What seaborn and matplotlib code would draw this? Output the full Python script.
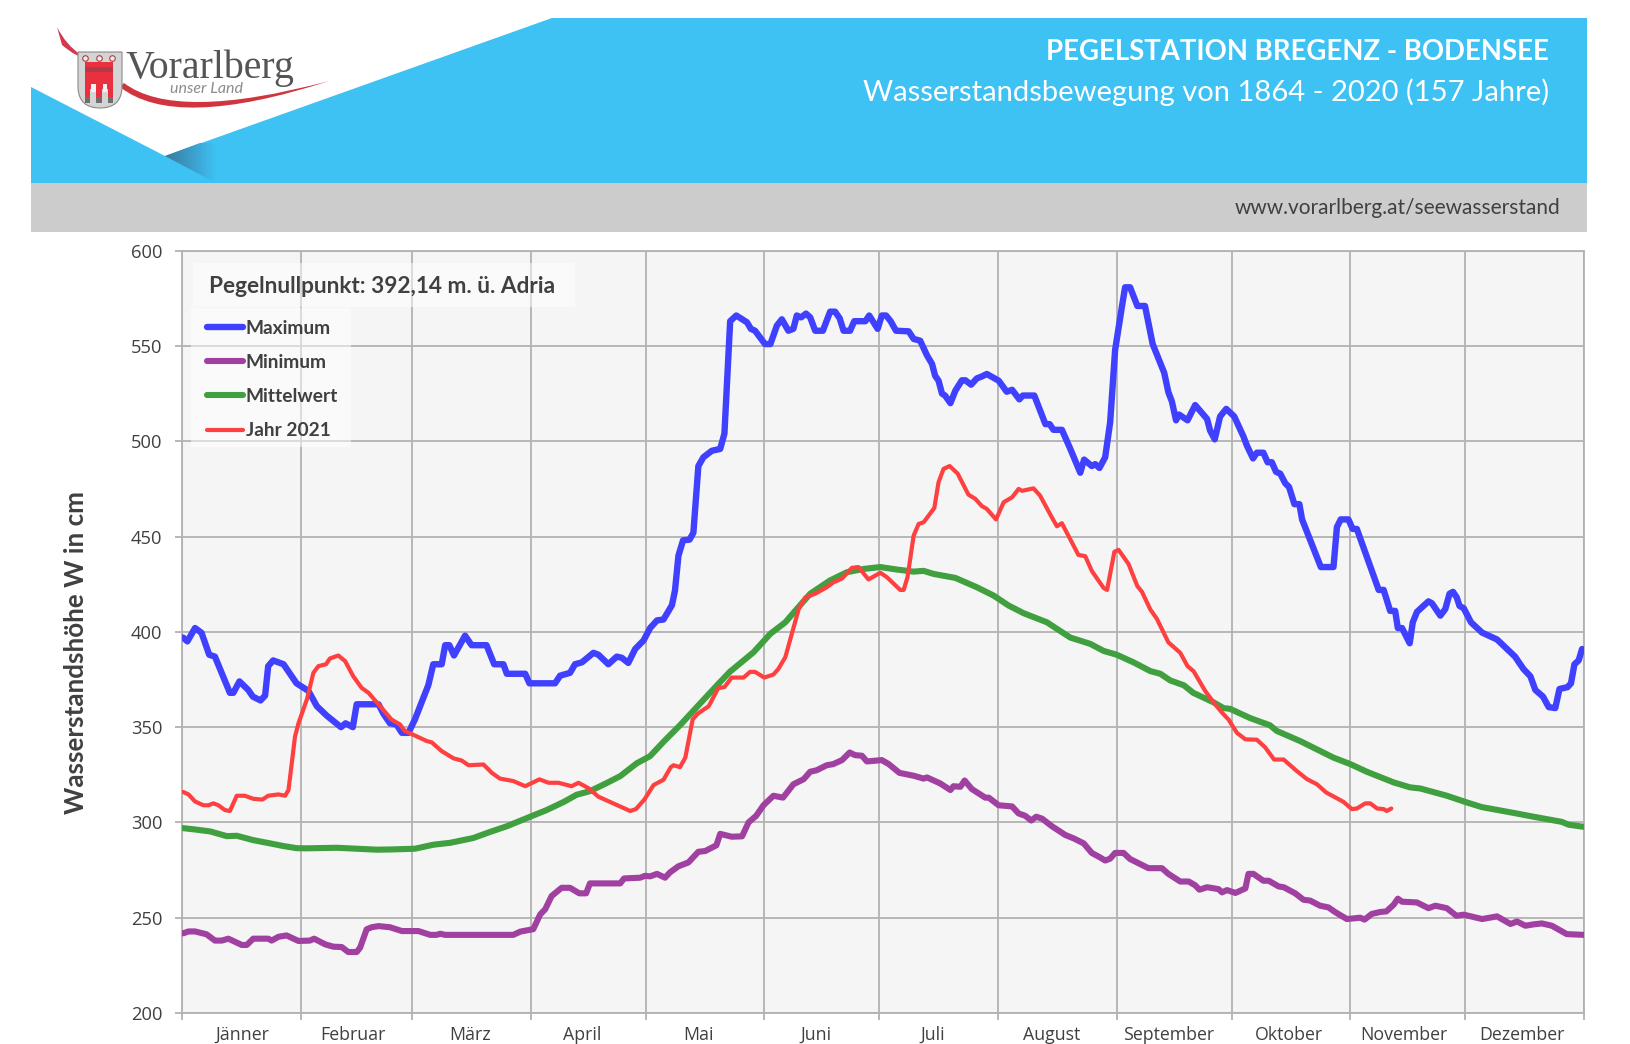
import numpy as np
import pandas as pd
import matplotlib
matplotlib.use("Agg")
import matplotlib.pyplot as plt
import seaborn as sns
from matplotlib.colors import LinearSegmentedColormap
from matplotlib.patches import PathPatch, Polygon, Rectangle
from matplotlib.path import Path

# Monate (Schaltjahr-Achse, 366 Tage)
months = ["Jänner", "Februar", "März", "April", "Mai", "Juni", "Juli",
          "August", "September", "Oktober", "November", "Dezember"]
month_lengths = [31, 29, 31, 30, 31, 30, 31, 31, 30, 31, 30, 31]
# Beschriftung sitzt im Original nicht exakt in der Monatsmitte
month_label_shift = [0.3, -0.8, -0.3, -1.6, -1.6, -1.4, -1.6, -1.4, -1.4, -0.5, -1.1, -0.8]
y_ticks = [200, 250, 300, 350, 400, 450, 500, 550, 600]

# Werte (Tag im Jahr / Wasserstand in cm)
max_days = [0.3, 1.4, 3.4, 5.1, 7.1, 8.6, 12.5, 13.4, 15, 17.3, 18.5, 20.5, 21.7, 22.5, 23.8, 26.5, 29.9, 33,
            35.2, 37.8, 41.5, 42.7, 44.6, 45.6, 51.3, 52.6, 54.3, 56, 57.4, 59.1, 60.8, 64.3, 65.6, 67.8, 68.7,
            69.8, 71, 73.9, 75.6, 79.5, 81.5, 83.9, 84.8, 89.6, 90.7, 97.4, 98.7, 101.3, 102.6, 104.4, 107.4,
            108.7, 111.3, 113.5, 114.8, 116.5, 118.3, 120.5, 122.2, 124, 125.7, 127.9, 128.7, 129.6, 130.8,
            132.5, 133.5, 134.8, 136.1, 138.3, 140.5, 141.6, 143.1, 144.7, 147.5, 148.5, 149.6, 152.2, 153.6,
            155.3, 156.6, 158.3, 159.6, 160.5, 161.6, 162.9, 164, 165.3, 167.3, 169.2, 170.5, 171.7, 172.7,
            174.4, 175.5, 178.4, 179.4, 181.6, 182.7, 183.8, 185, 186.4, 189.7, 191, 192.7, 194.5, 195.8,
            196.6, 197.5, 198.4, 199.2, 200.6, 201.9, 203.6, 204.5, 206, 207.5, 208.8, 210.1, 213.2, 215.3,
            216.7, 218.6, 219.5, 222.5, 225.4, 226.5, 227.5, 229.7, 231.9, 234.5, 235.5, 237.5, 238.4, 239.5,
            241, 242.3, 243.6, 245.4, 246.2, 247.5, 249.4, 251.4, 253.4, 256.4, 257.5, 258.4, 259.5, 260.3,
            262.5, 264.5, 267.6, 268.4, 269.6, 271, 272.6, 274.7, 277.1, 278, 279.6, 280.6, 282.3, 283.4,
            284.5, 285.6, 286.7, 288, 289, 290.4, 291.7, 292.4, 297.3, 300.6, 301.5, 302.5, 304.5, 305.6,
            306.7, 312.4, 313.7, 315.4, 316.7, 317.4, 318.5, 320.5, 321.3, 322.4, 325.4, 326.3, 328.5, 329.8,
            330.9, 331.8, 332.8, 333.5, 334.6, 336.5, 339.4, 343.3, 348, 350.2, 352, 353.3, 355.3, 356.8,
            358.5, 359.6, 361.7, 362.6, 363.5, 364.6, 365.5]
max_vals = [397, 395, 402, 399.5, 388, 387, 368, 368, 374, 369.5, 366, 364, 366.6, 382, 385, 383, 373, 369,
            361, 356, 350, 352, 350, 362, 362, 357, 352, 351.4, 347, 347, 354, 372, 383, 383, 393,
            393, 387.6, 398, 393, 393, 383, 383, 378, 378, 373, 373, 377, 378.5, 383, 384, 389,
            388, 383, 387, 386.4, 383.7, 391, 395.5, 402, 406, 406.5, 414, 421.7, 440, 448,
            448.4, 452, 487, 491.6, 495, 496, 504, 563, 566, 562.4, 559, 558, 551, 551,
            560.7, 564, 558, 559, 566, 565, 567, 565, 558, 558, 568, 568, 564.5, 558,
            558, 563, 563, 566, 559, 566, 566, 563, 558, 557.7, 553.7, 552.8, 545, 540.6,
            534.4, 531.8, 525, 524, 520, 526.6, 532, 532, 529.7, 533, 534, 535.3, 531.8, 526,
            527, 522, 524, 524, 509, 509, 506, 506, 496, 483.5, 490.4, 487, 488, 486,
            491.6, 510, 548, 571, 580.8, 580.8, 571, 571, 551, 536, 525.7, 521, 511, 514,
            511, 519, 511.7, 505.6, 501, 513, 517, 513, 502.5, 497.7, 491, 494, 494, 489,
            489, 484, 483, 478, 476, 467, 467, 459, 434, 434, 455, 459, 459, 454,
            454, 422, 422, 411, 411, 402, 402, 394, 405, 410.5, 416, 415, 408.5, 412,
            420, 421, 418, 413.6, 412.4, 405, 399.6, 396, 387, 380.5, 376.7, 369.5, 366, 360.5,
            360, 370, 371, 373, 383, 385, 391]

min_days = [0.3, 1.7, 3.4, 6.4, 8.6, 10.4, 12.1, 15.6, 16.9, 18.6, 22.5, 23.4, 25.2, 27.3, 30.4, 33.4, 34.5,
            37.4, 39.5, 41.7, 43.4, 45.6, 46.5, 48.2, 49.5, 51.3, 54.3, 57.4, 61.7, 64.8, 66.5, 67.4, 68.7,
            86.5, 88.3, 91.7, 93.5, 94.8, 96.5, 99.1, 101.3, 103.7, 105.5, 106.5, 114.4, 115.4, 119.6, 120.9,
            122.2, 124, 126.1, 127.4, 129.6, 132.2, 134.8, 136.6, 139.5, 140.5, 143.5, 146.2, 147.9, 149.9,
            151.8, 154.4, 156.9, 159.6, 162.3, 164, 165.7, 168.3, 170, 172.3, 174.3, 175.7, 177.5, 178.8,
            182.7, 184.5, 187.3, 191, 193.6, 194.5, 197.9, 200.6, 201.4, 203.2, 204.3, 206.2, 209.7, 210.6,
            213.2, 216.7, 218.4, 220.1, 221.7, 223, 224.5, 227.1, 230.6, 232.8, 235.4, 237.5, 239.7, 241,
            242.3, 243.6, 245.8, 247.5, 252.3, 255.8, 257.5, 260.6, 262.8, 264.5, 265.6, 267.6, 270.6, 271.5,
            272.8, 275, 277.6, 278.4, 279.7, 282.3, 283.7, 286.3, 287.6, 290.6, 292.8, 294.5, 297.1, 299.3,
            301, 304.1, 307.6, 308.7, 310.6, 312.8, 314.4, 316.3, 317.4, 318.5, 322.4, 325.4, 327.2, 330.2,
            332.7, 334.6, 339.4, 343.3, 346.8, 348.5, 350.7, 352.8, 355, 357.6, 361.5, 365.9]
min_vals = [241.8, 242.8, 242.8, 241.3, 238, 238, 239, 235.7, 235.7, 239, 239, 238, 240, 240.7, 237.8, 238, 239,
            236, 234.8, 234.6, 232, 232, 234.3, 243.9, 245, 245.6, 245, 243, 243, 241, 241, 241.6, 241,
            241, 242.7, 244, 251.7, 254.4, 261.4, 265.7, 265.7, 262.8, 262.8, 268, 268, 270.6, 271, 272,
            271.7, 273, 271, 273.8, 277, 279, 284.6, 285, 288, 294, 292.5, 292.7, 300, 303.5,
            309, 314, 313, 320, 322.7, 326.6, 327.4, 330, 330.6, 332.7, 336.7, 335.3, 335, 332,
            332.7, 330.6, 326, 324.5, 323, 323.6, 320.5, 317, 319, 318.7, 322, 317.5, 313, 313,
            309, 308.4, 304.7, 303.5, 301, 303, 302, 298, 293.4, 291.6, 289, 284, 281.6, 280,
            281, 284, 284, 280.8, 276, 276, 273, 269, 269, 267, 264.7, 266, 265, 263.3,
            264.5, 263, 265.4, 273, 273, 269.4, 269.4, 266.4, 266, 262.8, 259.4, 259, 256.3, 255.4,
            253, 249.3, 250, 249, 252, 253, 253.3, 256.8, 260, 258.4, 258, 255, 256.3, 255,
            251, 251.6, 249.3, 250.7, 246.7, 248, 245.8, 246.5, 247, 245.8, 241.4, 241]

mean_days = [0.3, 3.4, 7.3, 11.7, 14.3, 18.6, 23, 26.5, 29.9, 32.5, 40.4, 45.6, 50.8, 54.3, 60.8, 65.6, 70, 76,
             80.4, 84.8, 90.9, 95.2, 99.6, 103, 106.5, 111, 114.4, 118.7, 122.2, 125.7, 130, 134.8, 139.6, 143,
             149.2, 153.6, 157.5, 160.5, 164, 169.2, 173.6, 177.9, 182.3, 186.6, 191, 193.6, 196.2, 201.9,
             207.5, 211.9, 215.8, 219.7, 225.8, 231.9, 237.1, 240.6, 244, 248.4, 252.8, 255.4, 258, 261.5,
             264, 269.3, 271.9, 273.6, 278.9, 284, 285.8, 291.9, 300.6, 305, 309.3, 316.3, 320.6, 323.3,
             330.2, 335.4, 339.4, 347.6, 352.8, 360.2, 362, 365.9]
mean_vals = [297, 296.3, 295.3, 292.8, 293, 290.7, 289, 287.6, 286.5, 286.4, 286.7, 286.2, 285.7, 285.8, 286.2,
             288.3, 289.3, 291.8, 295, 298, 303, 306.5, 310.7, 314.5, 316.4, 320.8, 324.3, 331, 334.8, 342.3,
             351, 361.4, 371.8, 379, 389.3, 399, 405, 412, 420, 427, 431.3, 433, 434, 432.7, 431.6, 432, 430.4,
             428.3, 423.4, 419, 413.8, 409.8, 405, 397, 393.7, 390, 388, 384, 379.4, 378, 374.5, 372,
             368, 363, 360, 359.6, 354.7, 351, 348, 342.7, 334, 330.6, 326.6, 321, 318.4, 317.8,
             314, 310.5, 308, 305, 303, 300.3, 298.8, 297.7]

y2021_days = [0.3, 1.7, 3.4, 5.6, 6.9, 8.2, 9.5, 11.2, 12.5, 14.3, 16.4, 18.6, 21, 22.5, 25.2, 26.9, 27.8, 29.5,
              30.4, 32.6, 34.3, 35.6, 37.6, 38.6, 40.8, 42.6, 44.7, 46.9, 48.7, 51.7, 54.7, 56.9, 58.2, 63.9,
              65.2, 67.8, 70.9, 73, 74.8, 78.7, 80.9, 83, 86.5, 89.6, 93.3, 95.7, 98.3, 101.7, 103.5, 106.1,
              108.7, 117, 118.5, 120.7, 123.1, 125.7, 127.6, 128.3, 130, 131.4, 133.3, 134.6, 137.5, 140, 141.6,
              143.5, 146.6, 148.3, 149.6, 152, 154.4, 155.7, 157.5, 161, 162.7, 165.3, 168.3, 170.1, 172.3,
              174.9, 176.6, 179.2, 182.3, 184, 187.5, 188.4, 189.4, 191, 192.3, 193.6, 196.4, 197.5, 198.8,
              200.4, 202.5, 205.3, 207.1, 208.8, 210.1, 212.5, 214.5, 216.7, 218.4, 219.3, 222.3, 224, 227.1,
              228.4, 229.7, 234, 235.8, 237.5, 240.6, 241.5, 243.4, 244.5, 247.1, 249.4, 250.6, 252.8, 254.5,
              257.5, 260.6, 262.5, 264.1, 267.1, 269.7, 271.5, 273.2, 275.4, 277.6, 280.6, 282.8, 285.1, 287.6,
              291, 293.7, 296.3, 298.7, 303.2, 305.4, 306.7, 308.9, 310.2, 312, 313.7, 314.5, 315.7]
y2021_vals = [316, 314.7, 311, 309, 309, 310, 309, 306.5, 306, 314, 314, 312.4, 312, 314, 314.7, 314, 317, 345,
              352, 364.5, 378.5, 382, 383, 386, 387.6, 384.6, 376.7, 370.6, 368, 361, 354, 351.4, 348, 342.7,
              342, 337.4, 333.6, 332.5, 330, 330.4, 326, 323, 321.7, 319, 322.6, 320.8, 320.8, 319, 320.8, 318,
              313.5, 306, 307, 312, 319.6, 322.4, 329, 330, 329, 334, 354, 357, 361, 370.5, 371,
              376, 376, 379, 379, 376, 377.6, 380.6, 386.7, 412, 418, 420, 423.4, 426, 428,
              433.6, 434, 427.5, 431, 428.7, 422, 422, 428.7, 450.5, 456.6, 457.5, 465, 478.5, 485.5,
              487, 483, 472, 469.8, 466, 464.5, 459, 468, 470.6, 475, 474, 475.3, 471.5, 460,
              455.4, 457, 440.4, 439.7, 432, 423, 422, 442, 443, 435.6, 424, 421, 411.7, 406.8,
              394.5, 389, 382, 379.3, 369, 362, 357.6, 354, 347, 343.6, 343.4, 339.3, 333, 333,
              327, 322.7, 320, 315.7, 310.8, 307, 307.3, 310, 310, 307.3, 307, 306, 307.3]

BLUE = "#3EC1F3"
GREY_BAND = "#CCCCCC"
GRID = "#B2B2B2"
TEXT = "#404040"
FONT = ["Lato", "DejaVu Sans"]
TICK_FONT = ["Open Sans", "DejaVu Sans"]
AX_TOP = 250.7
AX_BOTTOM = 1013


def draw_header(fig):
    # Kopfbereich in Pixelkoordinaten
    hd = fig.add_axes([0, 0, 1, 1], zorder=0)
    hd.set_xlim(0, 1631)
    hd.set_ylim(1044, 0)
    hd.axis("off")

    hd.add_patch(Polygon([(31, 87), (165, 156), (552, 18), (1587, 18), (1587, 183), (31, 183)],
                         closed=True, fc=BLUE, ec="none"))
    hd.add_patch(Rectangle((31, 183), 1556, 49, fc=GREY_BAND, ec="none"))

    # Schatten an der Falte
    cmap = LinearSegmentedColormap.from_list("fold", ["#3A7C9E", "#3C9CC8", BLUE])
    img = hd.imshow(np.linspace(0, 1, 64).reshape(1, -1), cmap=cmap, aspect="auto",
                    extent=(165, 216, 183, 143), zorder=2)
    clip = Polygon([(165, 156), (200, 143), (216, 143), (216, 183)], closed=True,
                   transform=hd.transData, fc="none", ec="none")
    hd.add_patch(clip)
    img.set_clip_path(clip)
    hd.set_xlim(0, 1631)
    hd.set_ylim(1044, 0)

    # Logo: roter Schwung
    swoosh1 = Path([(57, 27), (66, 45), (81, 55), (79, 59), (62, 45), (57, 27)],
                   [Path.MOVETO, Path.CURVE3, Path.CURVE3, Path.CURVE3, Path.CURVE3, Path.CLOSEPOLY])
    hd.add_patch(PathPatch(swoosh1, fc="#CF3A4C", ec="none", zorder=3))
    swoosh2 = Path([(120, 87), (175, 131), (329, 81), (175, 122), (124, 83), (120, 87)],
                   [Path.MOVETO, Path.CURVE3, Path.CURVE3, Path.CURVE3, Path.CURVE3, Path.CLOSEPOLY])
    hd.add_patch(PathPatch(swoosh2, fc="#D2343F", ec="none", zorder=3))

    # Logo: Wappen
    shield = Path([(78, 52), (122, 52), (122, 88), (121, 108), (100, 108), (79, 108), (78, 88), (78, 52)],
                  [Path.MOVETO, Path.LINETO, Path.LINETO, Path.CURVE3, Path.CURVE3, Path.CURVE3, Path.CURVE3,
                   Path.CLOSEPOLY])
    hd.add_patch(PathPatch(shield, fc="#D4D4D4", ec="#8A8A8A", lw=0.8, zorder=4))
    hd.add_patch(Rectangle((85, 62), 28, 27, fc="#E8303F", ec="none", zorder=5))
    hd.add_patch(Rectangle((85, 67), 28, 5, fc="#B03A48", ec="none", zorder=5))
    for x0 in (85, 96.5, 108):
        hd.add_patch(Rectangle((x0, 84), 5.5, 14, fc="#E8303F", ec="none", zorder=6))
        hd.add_patch(Rectangle((x0, 97), 5.5, 6, fc="#6E6E6E", ec="none", zorder=6))
    hd.add_patch(Rectangle((91.5, 84), 4.5, 8, fc="#F2F2F2", ec="none", zorder=6))
    hd.add_patch(Rectangle((103, 84), 4.5, 8, fc="#F2F2F2", ec="none", zorder=6))
    hd.scatter([85, 99, 112], [58, 58, 58], s=16, facecolor="#EDEDED", edgecolor="#B03A48", lw=0.8, zorder=6)

    hd.text(126, 78, "Vorarlberg", family=["Liberation Serif", "DejaVu Serif"], fontsize=28.7, color="#555555",
            va="baseline", ha="left", zorder=6)
    hd.text(170, 89, "unser Land", family=FONT, style="italic", fontsize=11.5, color="#8C8C8C",
            va="center", ha="left", zorder=6)

    # Titel
    hd.text(1549, 52, "PEGELSTATION BREGENZ - BODENSEE", family=FONT, fontsize=19.8, fontweight="bold",
            color="white", ha="right", va="center")
    hd.text(1549, 92, "Wasserstandsbewegung von 1864 - 2020 (157 Jahre)", family=FONT, fontsize=21,
            color="white", ha="right", va="center")
    hd.text(1560, 208, "www.vorarlberg.at/seewasserstand", family=FONT, fontsize=15, color=TEXT,
            ha="right", va="center")


def main():
    sns.set_theme(style="white")
    plt.rcParams["font.family"] = FONT

    fig = plt.figure(figsize=(16.31, 10.44), dpi=100, facecolor="white")
    draw_header(fig)

    ax = fig.add_axes([182 / 1631, 1 - AX_BOTTOM / 1044, (1584 - 182) / 1631, (AX_BOTTOM - AX_TOP) / 1044], zorder=1)
    ax.set_facecolor("#F5F5F5")

    # ============================
    # Kurven
    # ============================
    series = [
        ("Maximum", max_days, max_vals, "#4040FF", 4.6),
        ("Minimum", min_days, min_vals, "#A040A0", 4.4),
        ("Mittelwert", mean_days, mean_vals, "#40A040", 4.4),
        ("Jahr 2021", y2021_days, y2021_vals, "#FF4040", 3.0),
    ]
    for name, days, vals, color, lw in series:
        df = pd.DataFrame({"tag": days, "wert": vals})
        sns.lineplot(data=df, x="tag", y="wert", ax=ax, color=color, linewidth=lw, label=name,
                     estimator=None, sort=False, solid_joinstyle="round", solid_capstyle="round", zorder=3)

    # ============================
    # Achsen
    # ============================
    edges = np.cumsum([0] + month_lengths)
    centers = (edges[:-1] + edges[1:]) / 2 + np.array(month_label_shift)
    ax.set_xlim(0, edges[-1])
    ax.set_ylim(200, 600)
    ax.set_xticks(edges)
    ax.set_xticklabels([])
    ax.set_xticks(centers, minor=True)
    ax.set_xticklabels(months, minor=True, family=TICK_FONT, fontsize=12.8, color=TEXT)
    ax.set_yticks(y_ticks)
    ax.set_yticklabels([str(v) for v in y_ticks], family=TICK_FONT, fontsize=13.2, color=TEXT)
    ax.grid(True, which="major", color=GRID, linewidth=1.3)
    ax.set_axisbelow(True)
    ax.tick_params(axis="x", which="major", length=5, width=1.3, color=GRID, bottom=True)
    ax.tick_params(axis="x", which="minor", length=0, pad=9, bottom=True)
    ax.tick_params(axis="y", which="major", length=5, width=1.3, color=GRID, left=True, pad=9)
    for spine in ax.spines.values():
        spine.set_color(GRID)
        spine.set_linewidth(1.3)
    ax.set_xlabel("")
    ax.set_ylabel("")
    fig.text(76 / 1631, 1 - 653 / 1044, "Wasserstandshöhe W in cm", rotation=90, family=FONT, fontsize=18.7,
             fontweight="bold", color=TEXT, ha="center", va="center")

    # ============================
    # Beschriftung und Legende
    # ============================
    px = lambda x, y: ((x - 182) / 1402, 1 - (y - AX_TOP) / (AX_BOTTOM - AX_TOP))
    h = AX_BOTTOM - AX_TOP
    ax.add_patch(Rectangle(px(193, 307), 382 / 1402, 44 / h, transform=ax.transAxes, fc="white", alpha=0.5,
                           ec="none", zorder=4))
    ax.add_patch(Rectangle(px(191, 447), 160 / 1402, 139 / h, transform=ax.transAxes, fc="white", alpha=0.5,
                           ec="none", zorder=2))
    tx, ty = px(209, 286.5)
    ax.text(tx, ty, "Pegelnullpunkt: 392,14 m. ü. Adria", transform=ax.transAxes, family=FONT, fontsize=16.3,
            fontweight="bold", color=TEXT, ha="left", va="center", zorder=5)

    lx, ly = px(207, 319.5)
    leg = ax.legend(loc="upper left", bbox_to_anchor=(lx, ly), frameon=False, handlelength=1.9, handletextpad=0.12,
                    labelspacing=0.9, borderpad=0, borderaxespad=0,
                    prop={"family": FONT, "size": 13.8, "weight": "bold"})
    for text in leg.get_texts():
        text.set_color(TEXT)

    fig.savefig("out.png", dpi=100)


if __name__ == "__main__":
    main()
